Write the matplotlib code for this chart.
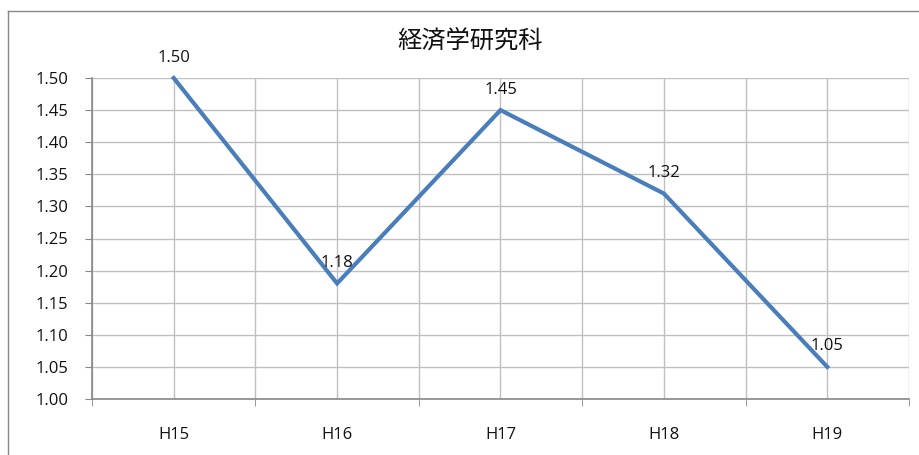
import matplotlib.pyplot as plt
from matplotlib.lines import Line2D

years = ['H15', 'H16', 'H17', 'H18', 'H19']
values = [1.50, 1.18, 1.45, 1.32, 1.05]
title = '経済学研究科'

W, H = 920, 455
fig = plt.figure(figsize=(W / 100, H / 100), dpi=100)
ax = fig.add_axes([92 / W, 1 - 399 / H, (909 - 92) / W, (399 - 78) / H])

x = list(range(len(years)))
ax.plot(x, values, color='#4a7ebb', lw=3, solid_joinstyle='miter', zorder=3, clip_on=False)
for xi, v in zip(x, values):
    ax.annotate(f'{v:.2f}', (xi, v), xytext=(0, 9), textcoords='offset points',
                ha='center', va='bottom', fontsize=12, family='Open Sans', color='#111111',
                zorder=4)

ax.set_xlim(-0.5, len(years) - 0.5)
ax.set_ylim(1.0, 1.5)
ax.set_yticks([1.0 + 0.05 * i for i in range(11)])
ax.set_yticklabels([f'{1.0 + 0.05 * i:.2f}' for i in range(11)], family='Open Sans', fontsize=12)
ax.set_xticks(x)
ax.set_xticklabels(years, family='Open Sans', fontsize=12)
ax.set_xticks([i - 0.5 for i in range(len(years) + 1)], minor=True)

ax.grid(True, which='both', axis='x', color='#c0c0c0', lw=1)
ax.grid(True, which='major', axis='y', color='#c0c0c0', lw=1)
ax.tick_params(axis='x', which='major', length=0, pad=20, colors='#111111')
ax.tick_params(axis='x', which='minor', length=5, color='#888888', direction='out')
ax.tick_params(axis='y', length=5, color='#888888', labelcolor='#111111', direction='out', pad=12)
for s in ['top', 'right']:
    ax.spines[s].set_visible(False)
for s in ['left', 'bottom']:
    ax.spines[s].set_color('#888888')
    ax.spines[s].set_linewidth(1.2)

fig.text(470 / W, 1 - 41 / H, title, family='Noto Sans CJK JP', fontsize=17.5,
         ha='center', va='center', color='#111111')

fig.add_artist(Line2D([8 / W, 8 / W], [0, 1 - 11 / H], color='#888888', lw=1))
fig.add_artist(Line2D([8 / W, 1], [1 - 11 / H, 1 - 11 / H], color='#888888', lw=1))

fig.savefig('out.png', dpi=100)
